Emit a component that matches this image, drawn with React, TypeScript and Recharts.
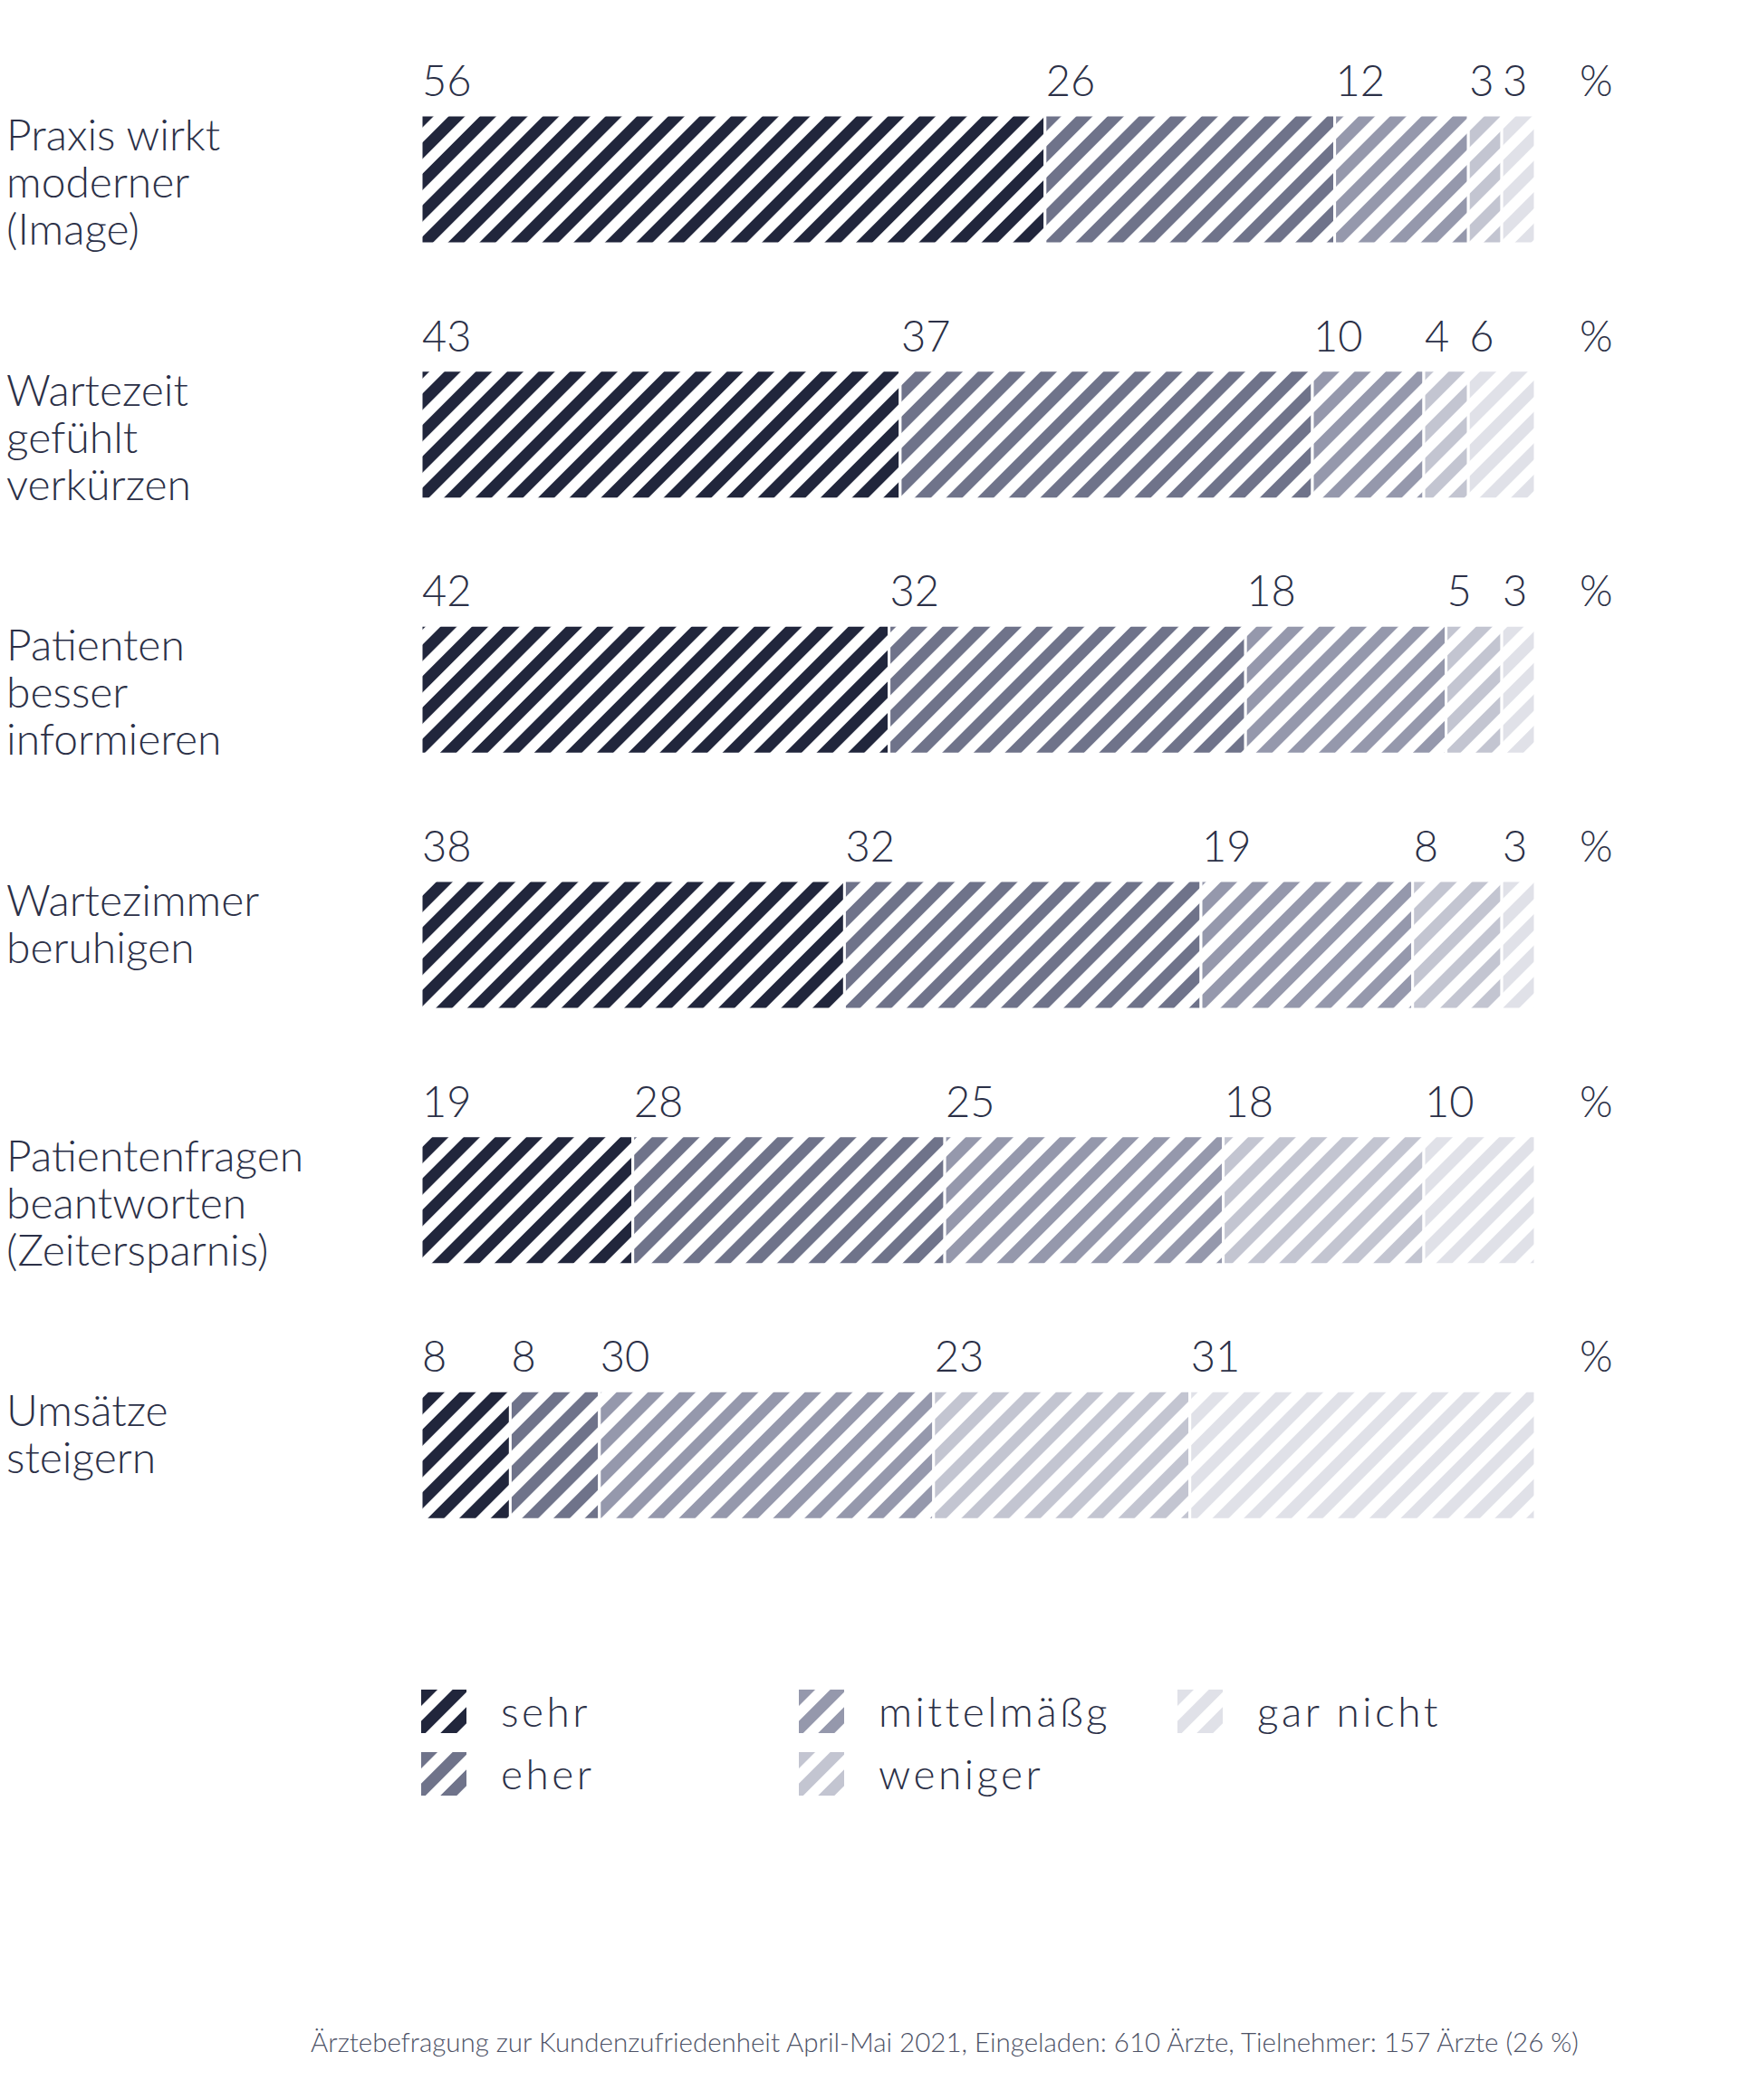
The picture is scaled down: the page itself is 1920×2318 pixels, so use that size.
import React from 'react'
import { BarChart, Bar, XAxis, YAxis, LabelList } from 'recharts'

const categories = [
  'Praxis wirkt\nmoderner\n(Image)',
  'Wartezeit\ngefühlt\nverkürzen',
  'Patienten\nbesser\ninformieren',
  'Wartezimmer\nberuhigen',
  'Patientenfragen\nbeantworten\n(Zeitersparnis)',
  'Umsätze\nsteigern',
]

const seriesNames = ['sehr', 'eher', 'mittelmäßg', 'weniger', 'gar nicht']
const seriesKeys = ['sehr', 'eher', 'mittel', 'weniger', 'garNicht']
const sehr = [56, 43, 42, 38, 19, 8]
const eher = [26, 37, 32, 32, 28, 8]
const mittel = [12, 10, 18, 19, 25, 30]
const weniger = [3, 4, 5, 8, 18, 23]
const garNicht = [3, 6, 3, 3, 10, 31]

const colors = ['#21263c', '#6f738a', '#9598ac', '#c3c5d1', '#e0e1e8']
const textColor = '#2b3047'
const font = 'Lato, "Open Sans", sans-serif'
const weight = 300

const footnote =
  'Ärztebefragung zur Kundenzufriedenheit April-Mai 2021, Eingeladen: 610 Ärzte, Tielnehmer: 157 Ärzte (26 %)'

const data = categories.map((name, i) => ({
  name,
  sehr: sehr[i],
  eher: eher[i],
  mittel: mittel[i],
  weniger: weniger[i],
  garNicht: garNicht[i],
}))

function Patterns() {
  return (
    <svg width="0" height="0" style={{ position: 'absolute' }}>
      <defs>
        {colors.map((c, i) => (
          <pattern
            key={i}
            id={`hatch-${i}`}
            patternUnits="userSpaceOnUse"
            width={24.5}
            height={24.5}
            patternTransform="rotate(45)"
          >
            <rect x={0} y={0} width={12.8} height={24.5} fill={c} />
          </pattern>
        ))}
      </defs>
    </svg>
  )
}

const CategoryTick = (props: any) => {
  const { y, payload } = props
  const lines = String(payload.value).split('\n')
  return (
    <text x={7} y={y - 32} fill={textColor} fontSize={48} fontWeight={weight} fontFamily={font} textAnchor="start">
      {lines.map((l, i) => (
        <tspan key={i} x={7} dy={i === 0 ? 0 : 52}>
          {l}
        </tspan>
      ))}
    </text>
  )
}

const valueLabel = (props: any) => {
  const { x, y, value } = props
  return (
    <text x={x + 1} y={y - 21} fill={textColor} fontSize={47} fontWeight={weight} fontFamily={font} textAnchor="start">
      {value}
    </text>
  )
}

const percentLabel = (props: any) => {
  const { x, y, width } = props
  return (
    <text x={x + width + 49} y={y - 21} fill={textColor} fontSize={47} fontWeight={weight} fontFamily={font} textAnchor="start">
      %
    </text>
  )
}

const legendCols = [465, 882, 1300]

export default function App() {
  return (
    <div style={{ position: 'absolute', left: 0, top: 0, width: 1920, height: 2318, background: '#fff' }}>
      <Patterns />
      <BarChart
        width={1920}
        height={1747}
        data={data}
        layout="vertical"
        margin={{ top: 57, right: 225, bottom: 0, left: 0 }}
        barSize={142}
      >
        <XAxis type="number" domain={[0, 100]} hide />
        <YAxis
          type="category"
          dataKey="name"
          width={465}
          axisLine={false}
          tickLine={false}
          tick={CategoryTick}
          interval={0}
        />
        {seriesKeys.map((k, i) => (
          <Bar
            key={k}
            dataKey={k}
            name={seriesNames[i]}
            stackId="a"
            fill={`url(#hatch-${i})`}
            stroke="#fff"
            strokeWidth={3}
            isAnimationActive={false}
          >
            <LabelList dataKey={k} content={valueLabel} />
            {i === seriesKeys.length - 1 && <LabelList dataKey={k} content={percentLabel} />}
          </Bar>
        ))}
      </BarChart>

      {seriesNames.map((n, i) => {
        const col = Math.floor(i / 2)
        const row = i % 2
        const left = legendCols[col]
        const top = 1865 + row * 69
        return (
          <div key={n} style={{ position: 'absolute', left, top, height: 48, display: 'flex', alignItems: 'center' }}>
            <svg width={50} height={48}>
              <rect x={0} y={0} width={50} height={48} fill={`url(#hatch-${i})`} />
            </svg>
            <span
              style={{
                marginLeft: 38,
                fontFamily: font,
                fontWeight: weight,
                fontSize: 46,
                letterSpacing: 3.5,
                color: textColor,
                lineHeight: '48px',
              }}
            >
              {n}
            </span>
          </div>
        )
      })}

      <div
        style={{
          position: 'absolute',
          left: 143,
          width: 1800,
          top: 2236,
          textAlign: 'center',
          fontFamily: font,
          fontWeight: weight,
          fontSize: 29.5,
          color: '#4d5266',
        }}
      >
        {footnote}
      </div>
    </div>
  )
}
